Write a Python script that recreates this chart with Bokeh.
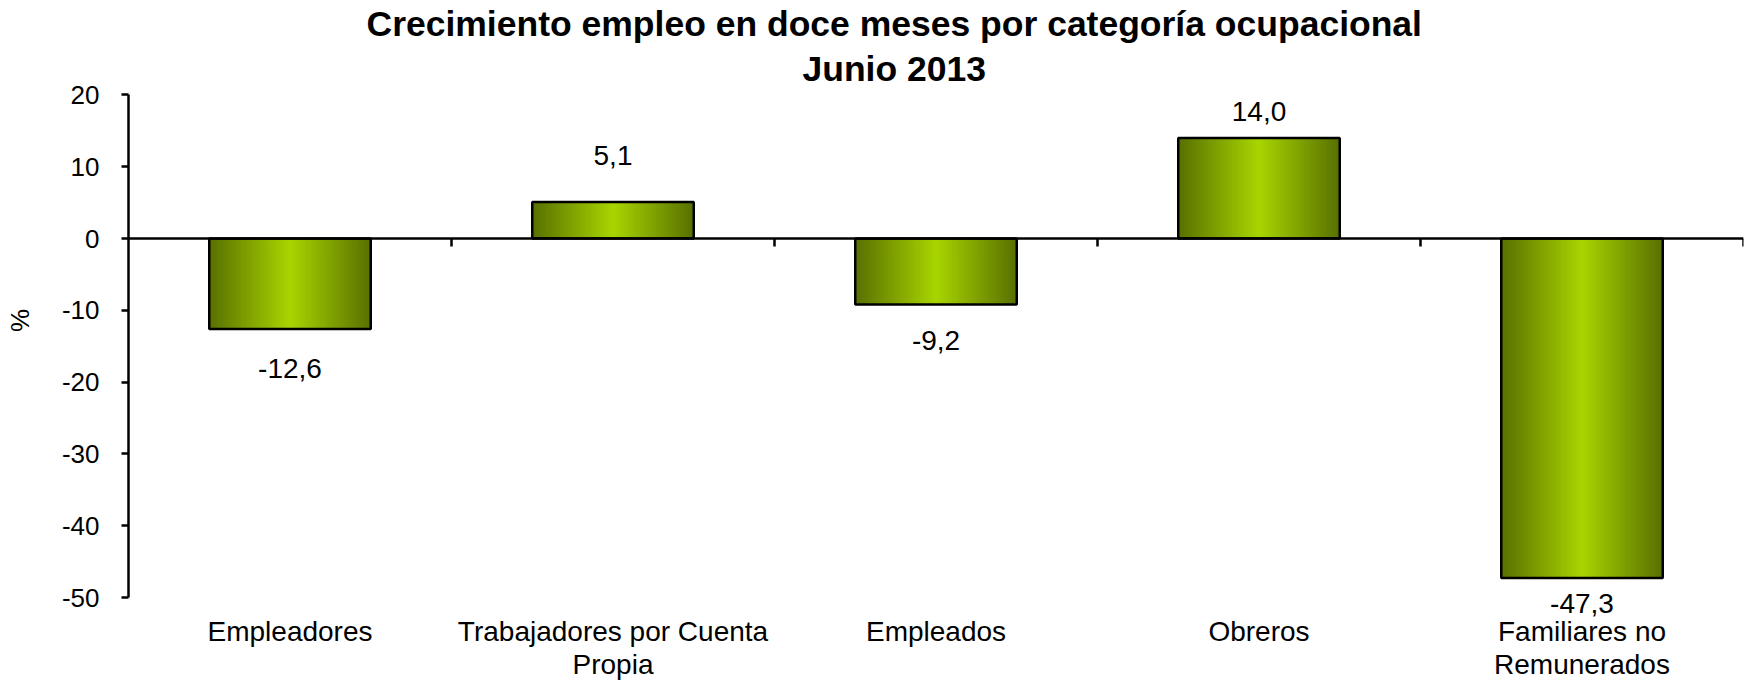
import numpy as np
from bokeh.plotting import figure
from bokeh.models import (ColumnDataSource, FixedTicker, Range1d, Title, LabelSet, Span)
from bokeh.core.properties import value
from bokeh.embed import file_html
from bokeh.resources import INLINE

# ---------------- data ----------------
title_line1 = "Crecimiento empleo en doce meses por categoría ocupacional"
title_line2 = "Junio 2013"
categories = ["Empleadores", "Trabajadores por Cuenta\nPropia", "Empleados",
              "Obreros", "Familiares no\nRemunerados"]
values = [-12.6, 5.1, -9.2, 14.0, -47.3]
value_labels = ["-12,6", "5,1", "-9,2", "14,0", "-47,3"]
y_ticks = [-50, -40, -30, -20, -10, 0, 10, 20]
y_tick_labels = ["-50", "-40", "-30", "-20", "-10", "0", "10", "20"]
y_axis_label = "%"

# ---------------- style / layout ----------------
FONT = "Liberation Sans"
W, H = 1744, 680
FRAME_LEFT, FRAME_TOP, FRAME_RIGHT = 128, 90, 1743
Y0_PX, UNIT_PX = 238.0, 7.18          # pixel row of value 0, pixels per unit
BAR_W = 0.5
N_STRIPS = 60
EDGE = np.array([88, 112, 0])
MID = np.array([168, 213, 0])
label_offsets = [-40, 46, -36, 26, -25]   # px from the bar end
CAT_LABEL_TOP_PX = 615                    # top of category label block
TICK_LEN_PX = 8
PCT_SHIFT = "\u2003" * 5                  # lifts the "%" title above the frame centre


def px_to_val(py):
    return (Y0_PX - py) / UNIT_PX


n = len(categories)
xs = np.arange(1, n + 1)
x_lo, x_hi = 0.5, n + 0.5

p = figure(width=W, height=H, output_backend="svg", toolbar_location=None,
           x_range=Range1d(x_lo, x_hi),
           y_range=Range1d(px_to_val(H), px_to_val(FRAME_TOP)),
           min_border_left=FRAME_LEFT, min_border_right=W - FRAME_RIGHT,
           min_border_top=FRAME_TOP, min_border_bottom=0,
           background_fill_color="white", border_fill_color="white")
p.outline_line_color = None
p.grid.visible = False
p.xaxis.visible = False

# titles: p.title is the outer (top) one, added titles sit closer to the frame
p.title.text = title_line1
p.title.text_font = FONT
p.title.text_font_size = "35.5px"
p.title.text_font_style = "bold"
p.title.text_color = "black"
p.title.align = "left"
p.title.offset = 238
p.title.standoff = 1
t2 = Title(text=title_line2, text_font=FONT, text_font_size="35.5px",
           text_font_style="bold", text_color="black", align="left",
           offset=674, standoff=4)
p.add_layout(t2, "above")

# gradient bars built from strips
def grad_color(t):
    c = EDGE + (MID - EDGE) * t
    return "#%02x%02x%02x" % tuple(int(round(v)) for v in c)

L, R, T, B, C = [], [], [], [], []
step = BAR_W / N_STRIPS
for xc, v in zip(xs, values):
    left_edge = xc - BAR_W / 2
    for k in range(N_STRIPS):
        l = left_edge + k * step
        r = min(l + 1.6 * step, xc + BAR_W / 2)
        pos = (k + 0.5) / N_STRIPS
        t = 1 - abs(pos - 0.5) * 2
        L.append(l); R.append(r)
        T.append(max(v, 0)); B.append(min(v, 0))
        C.append(grad_color(t))
p.quad(left=L, right=R, top=T, bottom=B, fill_color=C, line_color=None)

# bar outlines
p.quad(left=xs - BAR_W / 2, right=xs + BAR_W / 2,
       top=[max(v, 0) for v in values], bottom=[min(v, 0) for v in values],
       fill_color=None, line_color="black", line_width=2.5)

# zero line and category separator ticks
p.add_layout(Span(location=0, dimension="width", line_color="black", line_width=2.5))
seps = xs + 0.5
p.segment(x0=seps, x1=seps, y0=[0] * n, y1=[-TICK_LEN_PX / UNIT_PX] * n,
          line_color="black", line_width=2.5)

# value labels
src = ColumnDataSource(dict(x=xs, y=values, text=value_labels, off=label_offsets))
p.add_layout(LabelSet(x="x", y="y", text="text", y_offset="off", source=src,
                      text_align="center", text_baseline="middle",
                      text_font=value(FONT), text_font_size=value("28px"),
                      text_color="black"))

# category labels (below the value axis)
cat_src = ColumnDataSource(dict(x=xs, y=[px_to_val(CAT_LABEL_TOP_PX)] * n, text=categories))
p.text(x="x", y="y", text="text", source=cat_src, text_align="center",
       text_baseline="top", text_font=value(FONT), text_font_size=value("28px"),
       text_line_height=1.08, text_color="black")

# y axis
ya = p.yaxis[0]
ya.ticker = FixedTicker(ticks=y_ticks)
ya.major_label_overrides = {t: s for t, s in zip(y_ticks, y_tick_labels)}
ya.bounds = (min(y_ticks), max(y_ticks))
ya.axis_label = PCT_SHIFT + y_axis_label
ya.axis_label_text_font = FONT
ya.axis_label_text_font_size = "26px"
ya.axis_label_text_font_style = "normal"
ya.axis_label_text_color = "black"
ya.axis_label_standoff = 24
ya.axis_line_width = 2.5
ya.major_tick_line_width = 2.5
ya.major_tick_in = 0
ya.major_tick_out = 7
ya.minor_tick_line_color = None
ya.major_label_text_font = FONT
ya.major_label_text_font_size = "26px"
ya.major_label_text_color = "black"
ya.major_label_standoff = 22

open("out.html", "w").write(file_html(p, INLINE))
